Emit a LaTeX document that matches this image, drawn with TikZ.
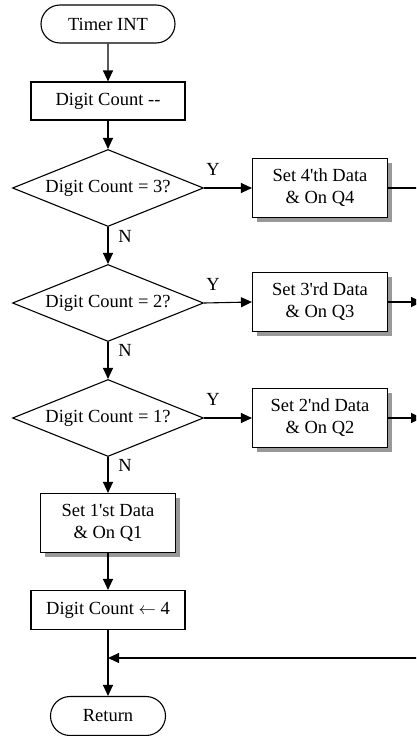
\documentclass[tikz,border=0pt]{standalone}
\usepackage{fontspec}
\newfontfamily\tfont{Liberation Serif}
\usetikzlibrary{shapes.geometric,shapes.misc,arrows.meta,shadows}
\begin{document}
\begin{tikzpicture}[x=1pt,y=-1pt,
  font=\tfont\fontsize{18.5}{22}\selectfont,
  every node/.style={line width=1.1pt, draw=black, inner sep=0pt, align=center},
  term/.style={rounded rectangle, minimum height=38pt},
  proc/.style={rectangle, minimum width=154pt, minimum height=38pt},
  sbox/.style={rectangle, fill=white, minimum width=135pt, minimum height=59pt,
     drop shadow={shadow xshift=4pt, shadow yshift=-4pt, fill=black!40, opacity=1}},
  dec/.style={diamond, minimum width=191pt, minimum height=77pt, aspect=2.48},
  lbl/.style={draw=none, fill=none},
  conn/.style={line width=1.1pt, -{Triangle[length=11pt,width=10pt]}},
  plain/.style={line width=1.1pt}]
\useasboundingbox (0,0) rectangle (416,736);
\clip (0,0) rectangle (416,736);
\fill[white] (0,0) rectangle (416,736);

\node[term, minimum width=134pt] (timer) at (108,24) {Timer INT};
\node[proc] (decr) at (108,101) {Digit Count --};
\node[dec] (c3) at (108,188) {Digit Count = 3?};
\node[sbox] (q4) at (320,188) {Set 4'th Data\\ \& On Q4};
\node[dec] (c2) at (108,303) {Digit Count = 2?};
\node[sbox] (q3) at (320,302) {Set 3'rd Data\\ \& On Q3};
\node[dec] (c1) at (108,418) {Digit Count = 1?};
\node[sbox] (q2) at (320,418) {Set 2'nd Data\\ \& On Q2};
\node[sbox] (q1) at (108,523) {Set 1'st Data\\ \& On Q1};
\node[proc, minimum height=39pt] (reset) at (108,610) {Digit Count \(\leftarrow\) 4};
\node[term, minimum width=115pt, minimum height=39pt] (ret) at (108,716) {Return};

\coordinate (bustop) at (421,188);
\coordinate (busq3) at (422,302);
\coordinate (busq2) at (422,418);
\coordinate (busbot) at (421,658);
\coordinate (merge) at (108,658);

\draw[conn] (timer) -- (decr);
\draw[conn] (decr) -- (c3);
\draw[conn] (c3) -- (c2);
\draw[conn] (c2) -- (c1);
\draw[conn] (c1) -- (q1);
\draw[conn] (q1) -- (reset);
\draw[conn] (reset) -- (ret);

\draw[conn] (c3.east) -- (q4.west);
\draw[conn] (c2.east) -- (q3.west);
\draw[conn] (c1.east) -- (q2.west);

\draw[plain] (q4.east) -- (bustop) -- (busbot);
\draw[conn] (q3.east) -- (busq3);
\draw[conn] (q2.east) -- (busq2);
\draw[conn] (busbot) -- (merge);

\node[lbl] (y3) at (213,169) {Y};
\node[lbl] (y2) at (213,284) {Y};
\node[lbl] (y1) at (213,399) {Y};
\node[lbl] (n3) at (125,236) {N};
\node[lbl] (n2) at (125,350) {N};
\node[lbl] (n1) at (125,465) {N};
\end{tikzpicture}
\end{document}
